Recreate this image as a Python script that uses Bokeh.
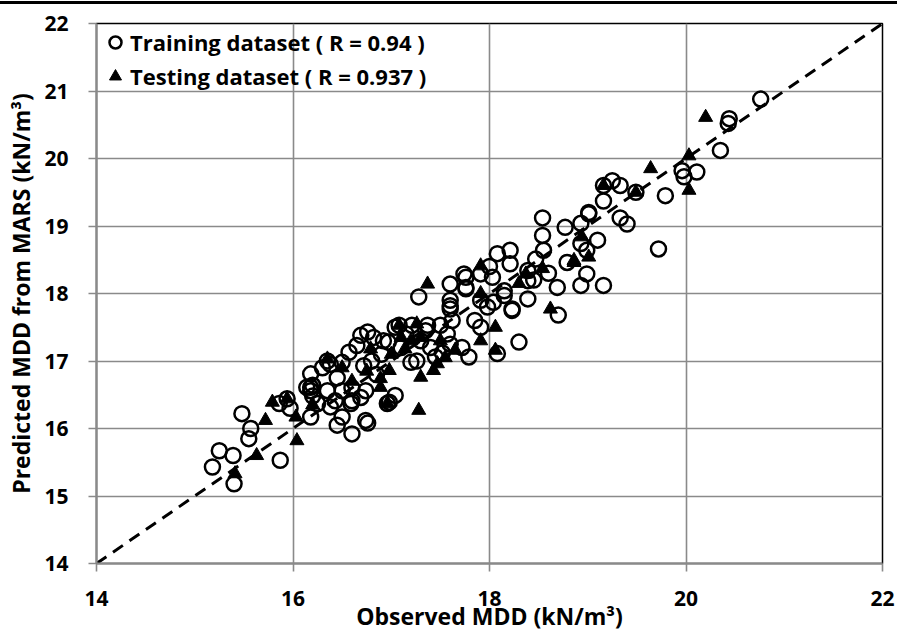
from bokeh.plotting import figure
from bokeh.models import Legend, LegendItem, FixedTicker, Div
from bokeh.layouts import column
from bokeh.embed import file_html
from bokeh.resources import INLINE

# Training dataset: observed MDD (x) and MARS-predicted MDD (y), kN/m3
train_obs = [
    15.18, 15.25, 15.39, 15.40, 15.48, 15.57, 15.55, 15.87, 15.86, 15.94,
    15.97, 16.18, 16.14, 16.18, 16.18, 16.20, 16.18, 16.25, 16.20,
    16.35, 16.38, 16.50, 16.35, 16.50, 16.43, 16.38, 16.60, 16.57, 16.65,
    16.69, 16.76, 16.82, 16.72, 16.74, 16.69, 16.59, 16.50, 16.74, 16.45,
    16.60, 16.76, 16.96, 16.98, 17.04, 16.97, 17.08, 16.30, 16.45, 16.60,
    16.85, 16.90, 16.80,
    17.20, 17.04, 17.21, 17.37, 17.50, 17.62, 16.92, 17.26, 17.45, 17.28,
    17.57, 17.30, 17.40, 17.15, 17.10, 17.35, 17.52, 17.60,
    17.60, 17.60, 17.60, 17.60, 17.74, 17.76, 17.91, 17.91, 17.98, 18.03,
    18.15, 18.23, 17.91, 17.72, 17.79, 18.30, 18.08, 18.08, 18.21, 18.21,
    17.76, 17.76, 18.15, 18.04, 17.85, 18.00,
    18.54, 18.54, 18.55, 18.47, 18.39, 18.39, 18.39, 18.23, 18.70, 18.77,
    18.93, 19.01, 19.10, 18.79, 18.99, 18.93, 18.69, 19.16, 18.60, 18.45,
    19.25, 19.33, 19.16, 19.16, 19.49, 19.79, 19.98, 19.96, 20.11, 19.01,
    19.33, 19.40, 18.99, 18.93, 19.72, 20.35, 20.44, 20.43, 20.76,
]
train_pred = [
    15.43, 15.67, 15.60, 15.18, 16.22, 16.00, 15.85, 15.53, 16.37, 16.44,
    16.30, 16.17, 16.61, 16.81, 16.61, 16.64, 16.56, 16.37, 16.48,
    17.00, 16.95, 16.98, 16.56, 16.56, 16.41, 16.32, 16.41, 17.13, 17.23,
    17.38, 17.43, 17.35, 16.93, 16.56, 16.46, 16.37, 16.17, 16.12, 16.05,
    15.92, 16.08, 16.37, 16.39, 16.49, 17.28, 17.53, 16.90, 16.75, 16.60,
    16.80, 17.10, 17.00,
    16.98, 17.50, 17.53, 17.53, 17.53, 17.60, 17.30, 17.00, 17.06, 17.95,
    17.40, 17.30, 17.20, 17.40, 17.20, 17.45, 17.12, 17.25,
    18.14, 17.90, 17.77, 17.82, 18.29, 18.07, 18.29, 17.90, 17.80, 18.24,
    17.97, 17.77, 17.50, 17.20, 17.06, 17.28, 17.11, 18.59, 18.64, 18.44,
    18.24, 18.09, 18.04, 17.87, 17.60, 18.40,
    19.12, 18.86, 18.64, 18.51, 18.34, 18.19, 17.92, 17.75, 17.68, 18.98,
    19.04, 19.18, 18.79, 18.46, 18.29, 18.12, 18.09, 18.12, 18.30, 18.20,
    19.67, 19.60, 19.37, 19.60, 19.50, 19.45, 19.73, 19.82, 19.80, 19.20,
    19.12, 19.03, 18.64, 18.74, 18.66, 20.12, 20.59, 20.52, 20.88,
]

# Testing dataset: observed MDD (x) and MARS-predicted MDD (y), kN/m3
test_obs = [
    15.41, 15.63, 15.72, 15.79, 16.04, 16.03, 15.94, 16.35, 16.89, 16.89,
    16.96, 17.08, 16.79, 17.14, 17.26, 17.28, 17.30, 17.43, 16.98, 17.37,
    17.91, 18.06, 18.06, 17.91, 17.65, 17.20, 17.10, 17.30, 17.47, 18.86,
    19.01, 18.94, 18.62, 18.54, 18.37, 17.91, 19.16, 19.49, 19.64, 20.03,
    20.03, 20.20, 18.86, 16.20, 16.50, 16.60, 16.75, 17.00, 17.50, 17.55,
    18.30,
]
test_pred = [
    15.33, 15.60, 16.12, 16.39, 15.82, 16.17, 16.44, 17.03, 16.74, 16.61,
    16.37, 17.53, 17.18, 17.18, 17.55, 16.27, 16.76, 16.86, 16.86, 18.14,
    18.41, 17.50, 17.16, 17.30, 17.16, 17.30, 17.35, 17.35, 16.96, 18.49,
    18.54, 18.84, 17.77, 18.37, 18.29, 18.00, 19.60, 19.50, 19.85, 20.04,
    19.53, 20.61, 18.46, 16.35, 16.90, 16.70, 16.85, 17.10, 17.30, 17.05,
    18.15,
]

# 1:1 reference line
diag = [14, 22]

x_ticks = [14, 16, 18, 20, 22]
y_ticks = [14, 15, 16, 17, 18, 19, 20, 21, 22]

FONT = "Open Sans"
GRID = "#8a8a8a"

p = figure(
    width=897, height=629,
    frame_width=786, frame_height=540,
    x_range=(14, 22), y_range=(14, 22),
    output_backend="svg", toolbar_location=None,
    min_border_left=96, min_border_right=15, min_border_top=19, min_border_bottom=66,
)

p.outline_line_color = "black"
p.outline_line_width = 1.5

p.xgrid.ticker = FixedTicker(ticks=x_ticks)
p.ygrid.ticker = FixedTicker(ticks=y_ticks)
for g in (p.xgrid, p.ygrid):
    g.grid_line_color = GRID
    g.grid_line_width = 1.6

for ax in (p.xaxis, p.yaxis):
    ax.axis_line_color = GRID
    ax.axis_line_width = 2
    ax.major_tick_line_color = GRID
    ax.major_tick_line_width = 1.6
    ax.major_tick_out = 8
    ax.major_tick_in = 0
    ax.minor_tick_line_color = None
    ax.major_label_text_font = FONT
    ax.major_label_text_font_style = "bold"
    ax.major_label_text_font_size = "21px"
    ax.major_label_text_color = "black"
    ax.axis_label_text_font = FONT
    ax.axis_label_text_font_style = "bold"
    ax.axis_label_text_font_size = "23px"
    ax.axis_label_text_color = "black"

p.xaxis.ticker = FixedTicker(ticks=x_ticks)
p.yaxis.ticker = FixedTicker(ticks=y_ticks)
p.xaxis.axis_label = "Observed MDD (kN/m³)"
p.yaxis.axis_label = "Predicted MDD from MARS (kN/m³)"
p.xaxis.major_label_standoff = 19
p.yaxis.major_label_standoff = 20
p.xaxis.axis_label_standoff = -9
p.yaxis.axis_label_standoff = 4

p.line(diag, diag, line_color="black", line_width=3, line_dash="12 8")

r_train = p.scatter(train_obs, train_pred, marker="circle", size=15,
                    fill_color=None, line_color="black", line_width=2.5)
r_test = p.scatter(test_obs, test_pred, marker="triangle", size=14,
                   fill_color="black", line_color="black", line_width=1)

legend = Legend(
    items=[
        LegendItem(label="Training dataset ( R = 0.94 )", renderers=[r_train]),
        LegendItem(label="Testing dataset ( R = 0.937 )", renderers=[r_test]),
    ],
    location="top_left",
    background_fill_alpha=0,
    border_line_color=None,
    label_text_font=FONT,
    label_text_font_style="bold",
    label_text_font_size="22px",
    label_text_color="black",
    glyph_width=30, glyph_height=30,
    label_standoff=0,
    spacing=4,
    padding=4,
    margin=4,
)
p.add_layout(legend)

top_rule = Div(text="", width=897, height=3, margin=(1, 0, 0, 0),
               styles={"background-color": "black"})

layout = column(top_rule, p, spacing=0)
open("out.html", "w").write(file_html(layout, INLINE))
